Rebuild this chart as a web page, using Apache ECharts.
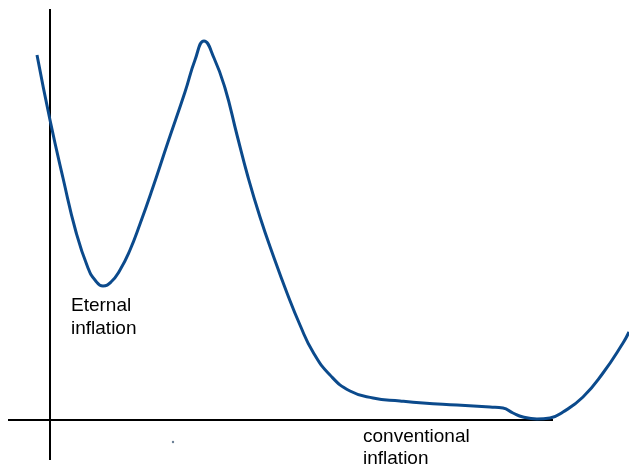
<!DOCTYPE html>
<html>
<head>
<meta charset="utf-8">
<script src="https://cdn.jsdelivr.net/npm/echarts@6/dist/echarts.min.js"></script>
<style>
html,body{margin:0;padding:0;background:#fff;}
#chart{width:629px;height:466px;}
</style>
</head>
<body>
<div id="chart"></div>
<script>
// Potential curve V(phi): [phi, V]
const curvePhi = [-13, 0, 13, 26, 38, 45, 53, 61, 70, 80, 90, 102, 118, 135, 145, 154, 164, 175, 187, 198, 210, 223, 237, 250, 263, 280, 300, 323, 350, 373, 407, 440, 453, 463, 473, 487, 500, 513, 533, 553, 573, 579];
const curveV   = [365, 300, 242, 188, 152, 140, 134, 138, 150, 170, 196, 230, 278, 328, 360, 379, 362, 332, 285, 243, 203, 165, 127, 95, 68, 45, 29, 22, 19, 17, 15, 13, 12, 7, 3, 1, 2, 8, 23, 47, 77, 88];
// Axis lines
const hAxisLine = [[-42, 0], [503, 0]];
const vAxisLine = [[0, -40], [0, 411]];
// Labels
const labelEternal = ['Eternal', 'inflation'];
const labelConventional = ['conventional', 'inflation'];

const curveData = curvePhi.map((x, i) => [x, curveV[i]]);

const chart = echarts.init(document.getElementById('chart'));
chart.setOption({
  animation: false,
  backgroundColor: '#ffffff',
  grid: {left: 0, right: 0, top: 0, bottom: 0},
  xAxis: {type: 'value', min: -50, max: 579, show: false},
  yAxis: {type: 'value', min: -46, max: 420, show: false},
  series: [
    {type: 'line', data: hAxisLine, symbol: 'none', lineStyle: {color: '#000', width: 2}, silent: true},
    {type: 'line', data: vAxisLine, symbol: 'none', lineStyle: {color: '#000', width: 2}, silent: true},
    {type: 'line', data: curveData, symbol: 'none', smooth: 0.5, smoothConstraint: false,
     lineStyle: {color: '#0b4a8c', width: 3}}
  ],
  graphic: [
    {type: 'text', left: 71, top: 294, style: {text: labelEternal.join('\n'), font: '19px "Liberation Sans", Arial, sans-serif', fill: '#000', lineHeight: 23}},
    {type: 'text', left: 363, top: 426, style: {text: labelConventional.join('\n'), font: '19px "Liberation Sans", Arial, sans-serif', fill: '#000', lineHeight: 22}},
    {type: 'circle', shape: {cx: 173, cy: 442, r: 1.2}, style: {fill: '#6a7f95'}}
  ]
});
</script>
</body>
</html>
